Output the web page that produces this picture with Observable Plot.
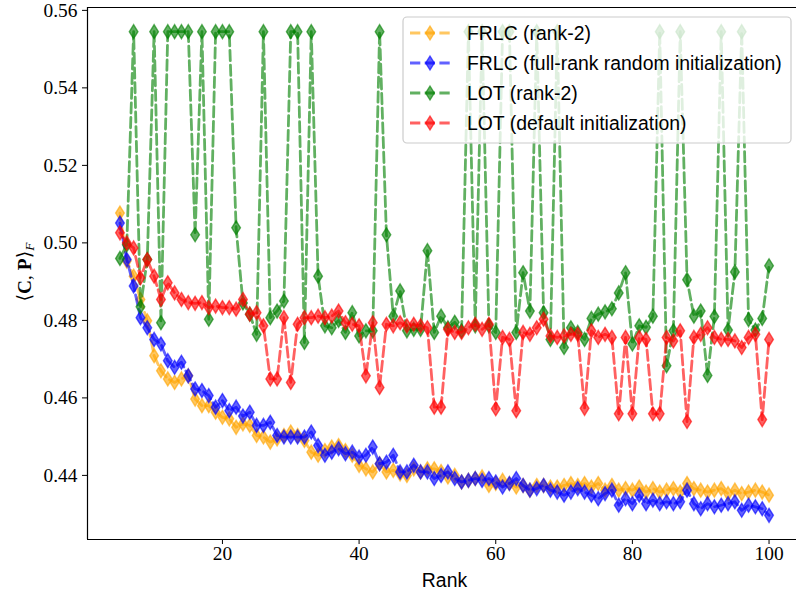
<!DOCTYPE html>
<html><head><meta charset="utf-8">
<script src="https://cdn.jsdelivr.net/npm/d3@7"></script>
<script src="https://cdn.jsdelivr.net/npm/@observablehq/plot@0.6"></script>
<style>body{margin:0;overflow:hidden;background:#fff}</style>
</head><body><div id="chart"></div>
<script>
const ranks = [5,6,7,8,9,10,11,12,13,14,15,16,17,18,19,20,21,22,23,24,25,26,27,28,29,30,31,32,33,34,35,36,37,38,39,40,41,42,43,44,45,46,47,48,49,50,51,52,53,54,55,56,57,58,59,60,61,62,63,64,65,66,67,68,69,70,71,72,73,74,75,76,77,78,79,80,81,82,83,84,85,86,87,88,89,90,91,92,93,94,95,96,97,98,99,100];

const frlcRank2 = [0.5077,0.4953,0.4914,0.4854,0.4799,0.4709,0.4670,0.4649,0.4640,0.4649,
0.4657,0.4597,0.4580,0.4580,0.4563,0.4550,0.4546,0.4524,0.4533,0.4529,
0.4503,0.4499,0.4486,0.4494,0.4503,0.4512,0.4503,0.4490,0.4460,0.4452,
0.4464,0.4473,0.4477,0.4464,0.4452,0.4426,0.4417,0.4409,0.4430,0.4409,
0.4413,0.4404,0.4400,0.4417,0.4409,0.4417,0.4417,0.4410,0.4396,0.4400,
0.4383,0.4387,0.4392,0.4396,0.4374,0.4379,0.4387,0.4379,0.4370,0.4374,
0.4362,0.4374,0.4374,0.4370,0.4370,0.4374,0.4379,0.4374,0.4379,0.4370,
0.4379,0.4362,0.4374,0.4362,0.4366,0.4362,0.4370,0.4357,0.4366,0.4357,
0.4362,0.4366,0.4357,0.4379,0.4366,0.4362,0.4357,0.4362,0.4366,0.4353,
0.4362,0.4353,0.4357,0.4362,0.4357,0.4349];

const frlcFull = [0.5051,0.4957,0.4889,0.4807,0.4781,0.4751,0.4739,0.4696,0.4679,0.4692,
0.4657,0.4623,0.4619,0.4606,0.4576,0.4593,0.4567,0.4576,0.4553,0.4563,
0.4529,0.4529,0.4537,0.4503,0.4499,0.4499,0.4499,0.4499,0.4512,0.4477,
0.4452,0.4460,0.4469,0.4456,0.4460,0.4447,0.4452,0.4473,0.4430,0.4434,
0.4452,0.4409,0.4409,0.4426,0.4409,0.4409,0.4392,0.4400,0.4409,0.4392,
0.4383,0.4387,0.4392,0.4387,0.4392,0.4383,0.4370,0.4379,0.4392,0.4374,
0.4362,0.4366,0.4374,0.4362,0.4357,0.4349,0.4357,0.4366,0.4357,0.4349,
0.4340,0.4353,0.4362,0.4323,0.4340,0.4327,0.4349,0.4327,0.4336,0.4327,
0.4332,0.4327,0.4332,0.4362,0.4327,0.4314,0.4327,0.4319,0.4323,0.4327,
0.4332,0.4310,0.4323,0.4319,0.4314,0.4297];

const lotRank2 = [0.4960,0.4995,0.5545,0.4835,0.4957,0.5545,0.4794,0.5545,0.5545,0.5545,
0.5545,0.5021,0.5545,0.4803,0.5545,0.5545,0.5545,0.5039,0.4845,0.4816,
0.4764,0.5545,0.4807,0.4824,0.4850,0.5545,0.5545,0.4743,0.5545,0.4914,
0.4786,0.4781,0.4800,0.4769,0.4820,0.4760,0.4773,0.4773,0.5545,0.5021,
0.4811,0.4876,0.4773,0.4777,0.4777,0.4980,0.4769,0.4811,0.4781,0.4795,
0.4773,0.5545,0.4786,0.5545,0.4786,0.4769,0.5545,0.5545,0.4769,0.4923,
0.4824,0.5545,0.4820,0.4751,0.5545,0.4730,0.4781,0.4769,0.4751,0.4805,
0.4816,0.4822,0.4830,0.4871,0.4923,0.4739,0.4786,0.4782,0.4811,0.5545,
0.4683,0.4773,0.5545,0.4905,0.4811,0.4824,0.4658,0.4810,0.5545,0.4775,
0.4925,0.5545,0.4802,0.4775,0.4805,0.4941];

const lotDefault = [0.5026,0.5000,0.4987,0.4910,0.4957,0.4914,0.4854,0.4897,0.4871,0.4854,
0.4846,0.4844,0.4846,0.4833,0.4837,0.4833,0.4833,0.4829,0.4854,0.4816,
0.4820,0.4786,0.4649,0.4649,0.4807,0.4640,0.4790,0.4807,0.4807,0.4811,
0.4807,0.4811,0.4824,0.4794,0.4790,0.4786,0.4657,0.4794,0.4627,0.4790,
0.4786,0.4794,0.4786,0.4790,0.4786,0.4781,0.4576,0.4576,0.4777,0.4769,
0.4769,0.4781,0.4790,0.4777,0.4790,0.4572,0.4756,0.4751,0.4567,0.4769,
0.4764,0.4781,0.4803,0.4760,0.4756,0.4760,0.4764,0.4764,0.4573,0.4773,
0.4756,0.4764,0.4756,0.4559,0.4756,0.4559,0.4756,0.4751,0.4559,0.4559,
0.4756,0.4747,0.4773,0.4539,0.4756,0.4764,0.4781,0.4756,0.4751,0.4751,
0.4747,0.4730,0.4756,0.4764,0.4544,0.4751];

const seriesNames = ["FRLC (rank-2)", "FRLC (full-rank random initialization)", "LOT (rank-2)", "LOT (default initialization)"];
const seriesColors = ["#ffa500", "#0000ff", "#008000", "#ff0000"];
const seriesValues = [frlcRank2, frlcFull, lotRank2, lotDefault];
const xTicks = [20, 40, 60, 80, 100];
const yTicks = [0.44, 0.46, 0.48, 0.50, 0.52, 0.54, 0.56];

const ALPHA = 0.62;
const thinDiamond = {
  draw(ctx, size) {
    const r = Math.sqrt(size / Math.PI);
    const w = r * 0.62;
    ctx.moveTo(0, -r); ctx.lineTo(w, 0); ctx.lineTo(0, r); ctx.lineTo(-w, 0); ctx.closePath();
  }
};
const R = 7;

const tables = seriesValues.map((vals, i) => ranks.map((rank, j) => ({rank, value: vals[j], series: seriesNames[i]})));
const all = tables.flat();
const xExt = d3.extent(all, d => d.rank), yExt = d3.extent(all, d => d.value);
const xPad = (xExt[1] - xExt[0]) * 0.05, yPad = (yExt[1] - yExt[0]) * 0.05;
const xDomain = [xExt[0] - xPad, xExt[1] + xPad];
const yDomain = [yExt[0] - yPad, yExt[1] + yPad];

const marks = [];
tables.forEach((t, i) => {
  const c = seriesColors[i];
  marks.push(Plot.line(t, {x: "rank", y: "value", stroke: c, strokeWidth: 2.8, strokeOpacity: ALPHA, strokeDasharray: "10.3,4.4"}));
  marks.push(Plot.dot(t, {x: "rank", y: "value", symbol: thinDiamond, r: R, fill: c, fillOpacity: ALPHA, stroke: c, strokeOpacity: ALPHA, strokeWidth: 1.4}));
});
marks.push(Plot.ruleX([xDomain[0]], {stroke: "black", strokeWidth: 1.2}));
marks.push(Plot.ruleY([yDomain[0], yDomain[1]], {stroke: "black", strokeWidth: 1.2}));
marks.push(Plot.axisX({ticks: xTicks, tickSize: 5, tickPadding: 2, label: null, tickFormat: d3.format("d")}));
marks.push(Plot.axisY({ticks: yTicks, tickSize: 5, tickPadding: 5, label: null, tickFormat: d3.format(".2f")}));
marks.push(Plot.text(["Rank"], {frameAnchor: "bottom", dy: 47, fontFamily: "Liberation Sans", fontSize: 19.4, fill: "black"}));

const chart = Plot.plot({
  width: 796, height: 594,
  marginLeft: 87, marginRight: -5, marginTop: 7, marginBottom: 55,
  x: {domain: xDomain},
  y: {domain: yDomain},
  style: {fontFamily: "Liberation Serif", fontSize: "19.4px", color: "black", background: "white", overflow: "hidden"},
  marks
});
document.getElementById("chart").append(chart);

// y label and legend
const svg = d3.select(chart);
const yl = svg.append("text")
  .attr("transform", "translate(24,272) rotate(-90)")
  .attr("text-anchor", "middle")
  .attr("dominant-baseline", "central")
  .attr("font-family", "Liberation Serif, DejaVu Serif")
  .attr("font-size", 19.4)
  .attr("fill", "black");
yl.append("tspan").text("\u27E8");
yl.append("tspan").attr("font-weight", "bold").text("C");
yl.append("tspan").text(", ");
yl.append("tspan").attr("font-weight", "bold").text("P");
yl.append("tspan").text("\u27E9");
yl.append("tspan").attr("font-style", "italic").attr("font-size", 13.5).attr("dy", 5).text("F");

const lg = svg.append("g");
lg.append("rect").attr("x", 403).attr("y", 17).attr("width", 388).attr("height", 126).attr("rx", 4)
  .attr("fill", "white").attr("fill-opacity", 0.8).attr("stroke", "#cccccc").attr("stroke-width", 1.2);
seriesNames.forEach((name, i) => {
  const cy = 33 + i * 30;
  const c = seriesColors[i];
  lg.append("line").attr("x1", 410).attr("x2", 450).attr("y1", cy).attr("y2", cy)
    .attr("stroke", c).attr("stroke-width", 2.8).attr("stroke-opacity", ALPHA).attr("stroke-dasharray", "10.3,4.4");
  lg.append("path").attr("transform", `translate(430,${cy})`)
    .attr("d", d3.symbol().type(thinDiamond).size(Math.PI * R * R)())
    .attr("fill", c).attr("fill-opacity", ALPHA).attr("stroke", c).attr("stroke-opacity", ALPHA).attr("stroke-width", 1.4);
  lg.append("text").attr("x", 467).attr("y", cy + 7).attr("text-anchor", "start")
    .attr("font-family", "Liberation Sans").attr("font-size", 19.4)
    .attr("fill", "black").text(name);
});
</script></body></html>
